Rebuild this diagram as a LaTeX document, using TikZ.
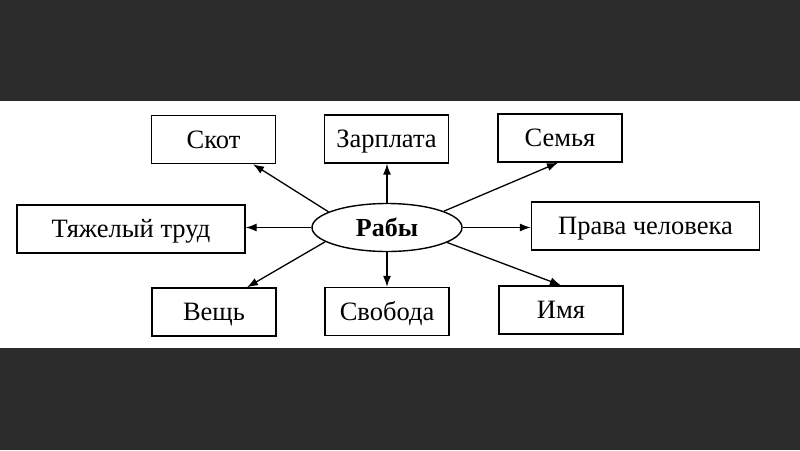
\documentclass[tikz,border=0pt]{standalone}
\usepackage{fontspec}
\setmainfont{Liberation Serif}
\usepackage{tikz}
\usetikzlibrary{shapes.geometric, arrows.meta}
\definecolor{slidebg}{RGB}{44,44,44}
\tikzstyle{termbox} = [
    rectangle, draw=black, line width=1.4pt, fill=white,
    minimum width=124pt, minimum height=48pt, inner sep=2pt,
    text height=17pt, text depth=0pt,
    font=\fontsize{26.5}{30}\selectfont
]
\tikzstyle{widebox} = [termbox, minimum width=228pt]
\tikzstyle{core} = [
    ellipse, draw=black, line width=1.4pt, fill=white,
    minimum width=150pt, minimum height=48pt, inner sep=0pt,
    text height=17pt, text depth=0pt,
    font=\fontsize{26}{30}\selectfont\bfseries
]
\tikzstyle{arrow} = [line width=1.3pt, ->, >={Latex[length=11pt, width=8pt]}, draw=black]

\begin{document}
\begin{tikzpicture}[x=1pt, y=-1pt]
    % slide background and white strip
    \fill [slidebg] (0,0) rectangle (800,450);
    \fill [white] (0,101) rectangle (800,348);

    \node [core] (slaves) at (387,227.5) {Рабы};

    \node [termbox] (cattle) at (213.5,139.5) {Скот};
    \node [termbox] (wage) at (386.5,139) {Зарплата};
    \node [termbox] (family) at (560,138) {Семья};
    \node [widebox] (labour) at (131,229) {Тяжелый труд};
    \node [widebox] (rights) at (645.5,226) {Права человека};
    \node [termbox] (thing) at (214,312) {Вещь};
    \node [termbox] (freedom) at (387,311.5) {Свобода};
    \node [termbox] (name) at (561,310) {Имя};

    \path [arrow] (slaves.165) -- ([xshift=39.5pt]cattle.south);
    \path [arrow] (slaves.north) -- (slaves.north |- wage.south);
    \path [arrow] (slaves.16) -- ([xshift=-2pt]family.south);
    \path [arrow] (slaves.west) -- (slaves.west -| labour.east);
    \path [arrow] (slaves.east) -- (slaves.east -| rights.west);
    \path [arrow] (slaves.193) -- ([xshift=33pt]thing.north);
    \path [arrow] (slaves.south) -- (slaves.south |- freedom.north);
    \path [arrow] (slaves.346) -- (name.north);
\end{tikzpicture}
\end{document}
